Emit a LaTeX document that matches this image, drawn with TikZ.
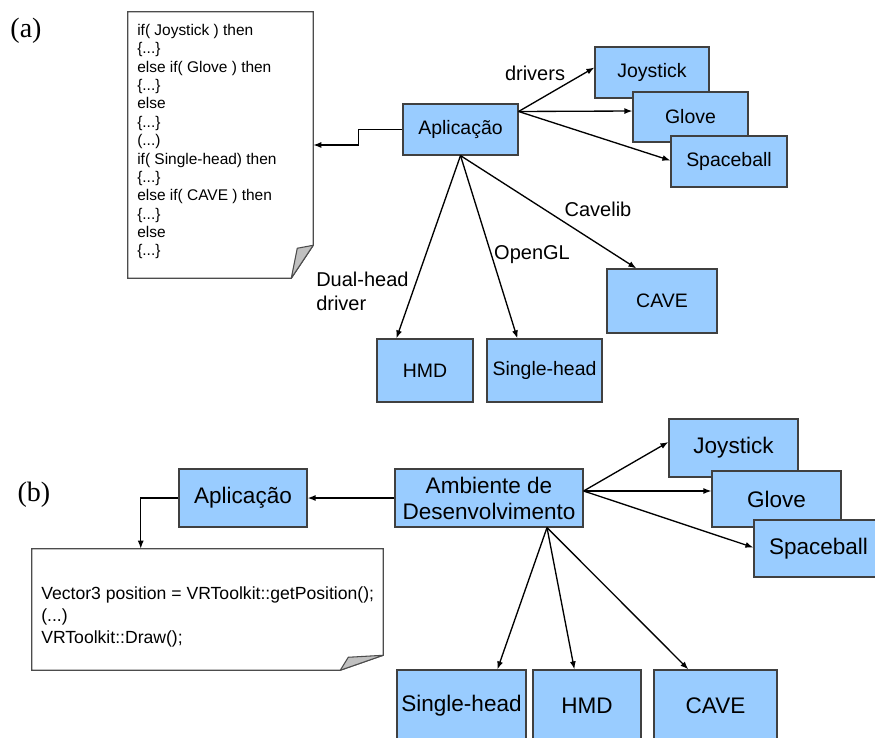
\documentclass[tikz,border=0pt]{standalone}
\usepackage{fontspec}
\setmainfont{Liberation Sans}
\newfontfamily\tagfont{Liberation Serif}
\usetikzlibrary{positioning,arrows.meta,calc}
\newlength\pxu
\setlength\pxu{0.75pt}
\definecolor{boxblue}{HTML}{99CCFF}
\definecolor{foldgray}{HTML}{C0C0C0}

\begin{document}
\begin{tikzpicture}[
  x=0.75pt,y=-0.75pt,
  box/.style={draw=black!75,line width=0.9pt,fill=boxblue,inner sep=0pt,align=center},
  boxa/.style={box,font=\fontsize{14.6}{17}\selectfont},
  boxb/.style={box,font=\fontsize{16.9}{19.5}\selectfont},
  doc/.style={inner sep=0pt},
  docline/.style={draw=black!70,line width=0.8pt,fill=white},
  fold/.style={draw=black!70,line width=0.8pt,fill=foldgray,line join=round},
  code/.style={inner sep=0pt,align=left,anchor=base west},
  flow/.style={-{Latex[length=6pt,width=4.5pt]},line width=1pt},
  lbl/.style={font=\fontsize{15}{18}\selectfont,inner sep=0pt},
  tag/.style={font=\tagfont\fontsize{21}{24}\selectfont,inner sep=0pt}
]
\useasboundingbox (0,0) rectangle (875,738);

% ---- (a) ----
\node[tag] (tagA) at (26,31) {(a)};

\node[doc,minimum width=185\pxu,minimum height=266\pxu] (docA) at (220.5,145) {};
\path[docline] (docA.north west) -- (docA.north east) -- ($(docA.south east)+(0,-33)$)
  -- ($(docA.south east)+(-22,0)$) -- (docA.south west) -- cycle;
\path[fold] ($(docA.south east)+(0,-33)$) -- ($(docA.south east)+(-16,-30)$)
  -- ($(docA.south east)+(-22,0)$) -- cycle;
% base = last line here
\node[code,font=\fontsize{11.6}{13.8}\selectfont] (codeA) at (137,256)
  {if( Joystick ) then\\\{...\}\\else if( Glove ) then\\\{...\}\\else\\\{...\}\\(...)\\
   if( Single-head) then\\\{...\}\\else if( CAVE ) then\\\{...\}\\else\\\{...\}};

\node[boxa,minimum width=115\pxu,minimum height=51\pxu] (appA) at (460.5,129.5) {Aplicação};
\node[boxa,minimum width=114\pxu,minimum height=51\pxu] (joyA) at (652,72.5) {Joystick};
\node[boxa,minimum width=115\pxu,minimum height=50\pxu] (gloveA) at (690.5,117) {Glove};
\node[boxa,minimum width=116\pxu,minimum height=51\pxu] (spaceA) at (729,161.5) {Spaceball};
\node[boxa,minimum width=96\pxu,minimum height=63\pxu] (hmdA) at (425,370.5) {HMD};
\node[boxa,minimum width=115\pxu,minimum height=63\pxu] (singleA) at (544.5,370.5) {Single-head};
\node[boxa,minimum width=110\pxu,minimum height=64\pxu] (caveA) at (662,301) {CAVE};

\draw[flow] (appA.west) -- ++(-44,0) |- (docA.east);
\draw[flow] ($(appA.east)+(0,-18)$) -- ($(joyA.west)+(0,-5)$);
\draw[flow] ($(appA.east)+(0,-18)$) -- ($(gloveA.west)+(0,-6)$);
\draw[flow] ($(appA.east)+(0,-18)$) -- ($(spaceA.west)+(0,-1)$);
\draw[flow] (appA.south) -- ($(hmdA.north west)+(20,0)$);
\draw[flow] (appA.south) -- ($(singleA.north west)+(31,0)$);
\draw[flow] (appA.south) -- ($(caveA.north west)+(30,0)$);

\node[lbl] (drvA) at (535,73) {drivers};
\node[lbl] (cavelibA) at (598,209) {Cavelib};
\node[lbl] (openglA) at (532,255) {OpenGL};
\node[lbl,align=left,anchor=west] (dualA) at (316,291) {Dual-head\\driver};

% ---- (b) ----
\node[tag] (tagB) at (34,495) {(b)};

\node[doc,minimum width=351\pxu,minimum height=121\pxu] (docB) at (207.5,609.5) {};
\path[docline] (docB.north west) -- (docB.north east) -- ($(docB.south east)+(0,-15)$)
  -- ($(docB.south east)+(-43,0)$) -- (docB.south west) -- cycle;
\path[fold] ($(docB.south east)+(0,-15)$) -- ($(docB.south east)+(-35,-13)$)
  -- ($(docB.south east)+(-43,0)$) -- cycle;
\node[code,font=\fontsize{13.2}{16.5}\selectfont] (codeB) at (41,643)
  {Vector3 position = VRToolkit::getPosition();\\(...)\\VRToolkit::Draw();};

\node[boxb,minimum width=128\pxu,minimum height=58\pxu] (appB) at (243,498) {Aplicação};
\node[boxb,minimum width=188\pxu,minimum height=58\pxu] (ambB) at (489,498) {Ambiente de\\Desenvolvimento};
\node[boxb,minimum width=129\pxu,minimum height=58\pxu] (joyB) at (733.5,448) {Joystick};
\node[boxb,minimum width=129\pxu,minimum height=56\pxu] (gloveB) at (776.5,499) {Glove};
\node[boxb,minimum width=129\pxu,minimum height=57\pxu] (spaceB) at (818.5,548.5) {Spaceball};
\node[boxb,minimum width=129\pxu,minimum height=72\pxu] (singleB) at (461.5,706) {Single-head};
\node[boxb,minimum width=108\pxu,minimum height=72\pxu] (hmdB) at (587,706) {HMD};
\node[boxb,minimum width=123\pxu,minimum height=72\pxu] (caveB) at (715.5,706) {CAVE};

\draw[flow] (ambB.west) -- (appB.east);
\draw[flow] (appB.west) -| ($(docB.north west)+(109,0)$);
\draw[flow] ($(ambB.east)+(0,-7)$) -- ($(joyB.west)+(0,-6)$);
\draw[flow] ($(ambB.east)+(0,-7)$) -- ($(gloveB.west)+(0,-8)$);
\draw[flow] ($(ambB.east)+(0,-7)$) -- ($(spaceB.west)+(0,-1)$);
\draw[flow] ($(ambB.south)+(58,0)$) -- ($(singleB.north west)+(101,0)$);
\draw[flow] ($(ambB.south)+(58,0)$) -- ($(hmdB.north west)+(42,0)$);
\draw[flow] ($(ambB.south)+(58,0)$) -- ($(caveB.north west)+(35,0)$);

\end{tikzpicture}
\end{document}
